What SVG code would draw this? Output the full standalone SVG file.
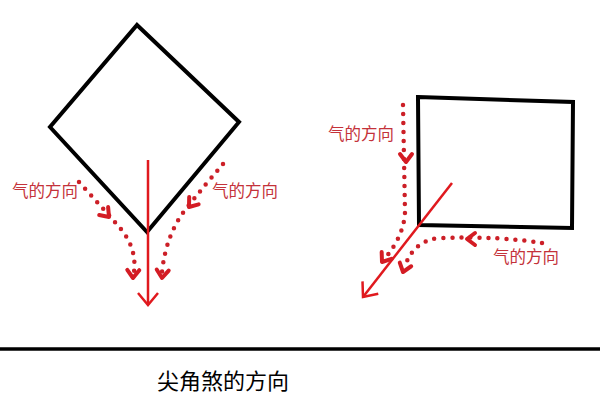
<svg xmlns="http://www.w3.org/2000/svg" xmlns:xlink="http://www.w3.org/1999/xlink" width="600" height="400" viewBox="0 0 600 400">
<style>
.shape{fill:none;stroke:#000;stroke-width:4;stroke-linejoin:miter}
.arrow{stroke:#e0191e;stroke-width:2.5;fill:none}
.dots{fill:none;stroke:#cc1f27;stroke-width:4.5;stroke-linecap:round;stroke-dasharray:0 9}
.chev{fill:none;stroke:#d41c24;stroke-width:4;stroke-linecap:round;stroke-linejoin:round}
.lbl{font-family:"Noto Sans CJK SC","Noto Sans",sans-serif;font-size:16.5px;fill:#c4323a}
.title{font-family:"Noto Sans CJK SC","Noto Sans",sans-serif;font-size:22px;fill:#000}
</style>
<defs>
<marker id="ah" markerUnits="userSpaceOnUse" markerWidth="30" markerHeight="30" refX="15" refY="15" orient="auto" viewBox="0 0 30 30">
<path d="M3,5 L15,15 L3,25" fill="none" stroke="#e0191e" stroke-width="2.5"/>
</marker>
<path id="chev" class="chev" d="M-8,-6 L0,0 L-8,6"/>
</defs>
<rect width="600" height="400" fill="#fff"/>
<g id="diamond"><path class="shape" d="M137,25 L239,122 L147,232 L50,127 Z"/></g>
<g id="rectangle"><path class="shape" d="M418,97 L573,102 L572,228 L419,225 Z"/></g>
<g id="connectors">
<line class="arrow" x1="148" y1="160" x2="148" y2="305" marker-end="url(#ah)"/>
<line class="arrow" x1="452" y1="183" x2="363" y2="297" marker-end="url(#ah)"/>
<path class="dots" d="M79,182 Q100,205 120,228 Q137,248 134,272"/>
<use xlink:href="#chev" transform="translate(109,217) rotate(48)"/>
<use xlink:href="#chev" transform="translate(133,278) rotate(92)"/>
<path class="dots" d="M223,164 Q205,185 185,210 Q166,235 162,272"/>
<use xlink:href="#chev" transform="translate(189,207) rotate(128)"/>
<use xlink:href="#chev" transform="translate(162,278) rotate(95)"/>
<path class="dots" d="M403,105 L405,212 Q404,235 386,257"/>
<use xlink:href="#chev" transform="translate(406,162) rotate(90)"/>
<use xlink:href="#chev" transform="translate(382,262) rotate(125)"/>
<path class="dots" d="M542,243 Q500,236 440,238 Q414,240 405,266"/>
<use xlink:href="#chev" transform="translate(467,239) rotate(180)"/>
<use xlink:href="#chev" transform="translate(403,272) rotate(108)"/>
</g>
<g id="labels">
<text class="lbl" x="12" y="197">气的方向</text>
<text class="lbl" x="212" y="197">气的方向</text>
<text class="lbl" x="328" y="140">气的方向</text>
<text class="lbl" x="493" y="263">气的方向</text>
</g>
<line x1="0" y1="349" x2="600" y2="349" stroke="#000" stroke-width="3.5"/>
<text class="title" x="157" y="389">尖角煞的方向</text>
</svg>
